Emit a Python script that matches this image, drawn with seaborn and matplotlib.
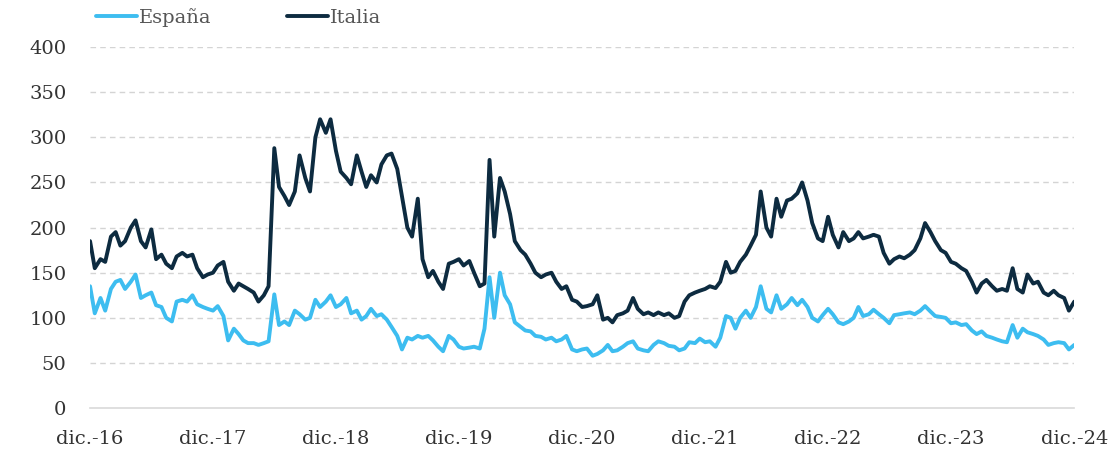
import pandas as pd
import matplotlib.pyplot as plt
import seaborn as sns

# semi-monthly readings, dic.-16 .. dic.-24
dates = pd.date_range('2016-12-01', '2024-12-01', freq='SMS')

italia = [
    185, 155, 165, 162, 190, 195, 180, 185, 200, 208, 185, 178, 198, 165, 170, 160, 155, 168, 172, 168, 170, 155, 145, 148,
    150, 158, 162, 140, 130, 138, 135, 132, 128, 118, 125, 135, 288, 245, 235, 225, 240, 280, 255, 240, 300, 320, 305, 320,
    285, 262, 255, 248, 280, 262, 245, 258, 250, 270, 280, 282, 265, 235, 200, 190, 232, 165, 145, 152, 140, 132, 160, 162,
    165, 158, 163, 150, 135, 138, 275, 190, 255, 240, 215, 185, 175, 170, 160, 150, 145, 148, 150, 140, 132, 135, 120, 118,
    112, 113, 115, 125, 98, 100, 95, 103, 105, 108, 122, 110, 104, 106, 103, 106, 103, 105, 100, 102, 118, 125, 128, 130,
    132, 135, 133, 140, 162, 150, 152, 162, 170, 180, 192, 240, 200, 190, 232, 212, 230, 232, 238, 250, 230, 205, 188, 185,
    212, 192, 178, 195, 185, 188, 195, 188, 190, 192, 190, 172, 160, 165, 168, 166, 170, 175, 188, 205, 195, 185, 175, 172,
    162, 160, 155, 152, 140, 128, 138, 142, 135, 130, 132, 130, 155, 132, 128, 148, 138, 140, 128, 125, 130, 125, 122, 108, 118,
]

espana = [
    135, 105, 122, 108, 132, 140, 142, 132, 140, 148, 122, 125, 128, 114, 112, 100, 96, 118, 120, 118, 125, 115, 112, 110,
    108, 113, 102, 75, 88, 82, 75, 72, 72, 70, 72, 74, 126, 92, 96, 92, 108, 104, 98, 100, 120, 112, 118, 125,
    112, 115, 122, 105, 108, 98, 102, 110, 102, 104, 98, 90, 80, 65, 78, 76, 80, 78, 80, 75, 68, 63, 80, 76,
    68, 66, 67, 68, 66, 88, 145, 100, 150, 125, 115, 95, 90, 86, 85, 80, 79, 76, 78, 74, 76, 80, 65, 63,
    65, 66, 58, 60, 64, 70, 63, 64, 68, 72, 74, 66, 64, 63, 70, 74, 72, 69, 68, 64, 66, 73, 72, 77,
    73, 74, 68, 78, 102, 100, 88, 100, 108, 100, 112, 135, 110, 106, 125, 110, 115, 122, 114, 120, 112, 100, 96, 103,
    110, 104, 95, 93, 96, 100, 112, 102, 104, 109, 104, 100, 94, 103, 104, 105, 106, 104, 108, 113, 107, 102, 101, 100,
    94, 95, 92, 93, 86, 82, 85, 80, 78, 76, 74, 73, 92, 78, 88, 84, 82, 80, 76, 70, 72, 73, 72, 65, 70,
]

tick_dates = pd.date_range('2016-12-01', '2024-12-01', freq='12MS')
tick_labels = ['dic.-16', 'dic.-17', 'dic.-18', 'dic.-19', 'dic.-20',
               'dic.-21', 'dic.-22', 'dic.-23', 'dic.-24']
y_ticks = [0, 50, 100, 150, 200, 250, 300, 350, 400]

df = pd.DataFrame({'fecha': list(dates) * 2,
                   'valor': espana + italia,
                   'pais': ['España'] * len(dates) + ['Italia'] * len(dates)})

sns.set_style('white')
plt.rcParams['font.family'] = ['DejaVu Serif']

fig = plt.figure(figsize=(11.09, 4.57), dpi=100)
ax = fig.add_axes([0.0812, 0.107, 0.8875, 0.79])

sns.lineplot(data=df, x='fecha', y='valor', hue='pais',
             palette={'España': '#3dbdf0', 'Italia': '#0d2b40'},
             linewidth=2.8, ax=ax)

ax.set_xlim(dates[0], dates[-1])
ax.set_ylim(0, 400)
ax.set_yticks(y_ticks)
ax.set_xticks(tick_dates)
ax.set_xticklabels(tick_labels)
ax.set_xlabel('')
ax.set_ylabel('')
ax.tick_params(axis='both', length=0, labelsize=14, labelcolor='#333333')
ax.tick_params(axis='y', pad=17)
ax.tick_params(axis='x', pad=16)

for v in y_ticks[1:]:
    ax.axhline(v, color='#d4d4d4', lw=1, ls=(0, (4, 3)), zorder=0)

for s in ['top', 'right', 'left']:
    ax.spines[s].set_visible(False)
ax.spines['bottom'].set_color('#d9d9d9')
ax.spines['bottom'].set_linewidth(1.2)

sns.move_legend(ax, 'center left', bbox_to_anchor=(-0.004, 1.083), ncol=2,
                frameon=False, title=None, borderpad=0, handlelength=2.1,
                handletextpad=0.1, columnspacing=3.9, fontsize=14,
                labelcolor='#555555')

plt.savefig('out.png', dpi=100)
